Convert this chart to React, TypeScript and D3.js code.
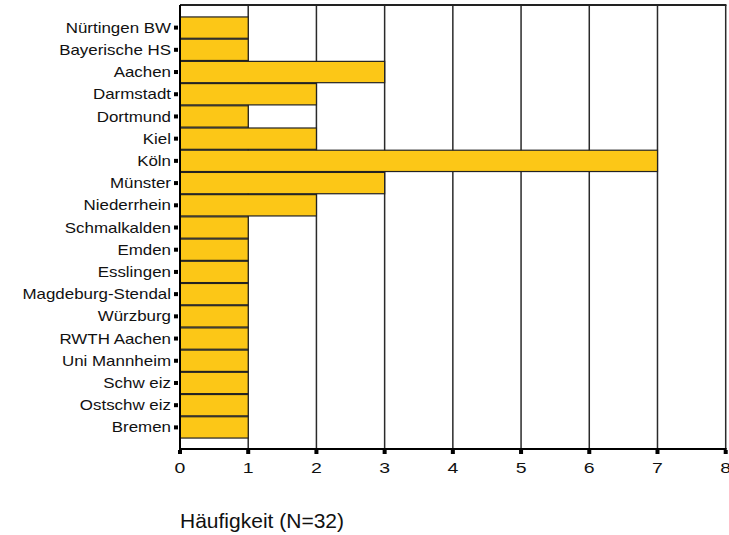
import { useEffect, useRef } from 'react';
import * as d3 from 'd3';

const categories = [
  'Nürtingen BW', 'Bayerische HS', 'Aachen', 'Darmstadt', 'Dortmund', 'Kiel', 'Köln',
  'Münster', 'Niederrhein', 'Schmalkalden', 'Emden', 'Esslingen', 'Magdeburg-Stendal',
  'Würzburg', 'RWTH Aachen', 'Uni Mannheim', 'Schw eiz', 'Ostschw eiz', 'Bremen',
];
const counts = [1, 1, 3, 2, 1, 2, 7, 3, 2, 1, 1, 1, 1, 1, 1, 1, 1, 1, 1];
const xTicks = [0, 1, 2, 3, 4, 5, 6, 7, 8];
const xTitle = 'Häufigkeit (N=32)';

const WIDTH = 729;
const HEIGHT = 535;
const FONT = "'Liberation Sans', Arial, sans-serif";

export default function App() {
  const svgRef = useRef<SVGSVGElement>(null);

  useEffect(() => {
    if (!svgRef.current) return;
    const svg = d3.select(svgRef.current);
    svg.selectAll('*').remove();

    const plot = { left: 180, right: 725.7, top: 5, bottom: 449 };

    const x = d3.scaleLinear().domain([0, 8]).range([plot.left, plot.right]);
    const y = d3.scaleBand<string>()
      .domain(categories)
      .range([16.5, 438.5])
      .paddingInner(0.04)
      .paddingOuter(0.02);

    // vertical grid
    svg.append('g')
      .selectAll('line')
      .data(xTicks.slice(1))
      .join('line')
      .attr('x1', d => x(d))
      .attr('x2', d => x(d))
      .attr('y1', plot.top)
      .attr('y2', plot.bottom)
      .attr('stroke', '#2a2a2a')
      .attr('stroke-width', 1.5);

    // top border
    svg.append('line')
      .attr('x1', plot.left).attr('x2', plot.right + 0.75)
      .attr('y1', plot.top).attr('y2', plot.top)
      .attr('stroke', '#222').attr('stroke-width', 2);

    // bars
    svg.append('g')
      .selectAll('rect')
      .data(categories)
      .join('rect')
      .attr('x', x(0))
      .attr('y', d => y(d)!)
      .attr('width', (_, i) => x(counts[i]) - x(0))
      .attr('height', y.bandwidth())
      .attr('fill', '#fcc717')
      .attr('stroke', '#222')
      .attr('stroke-width', 1.2);

    // axes lines
    svg.append('line')
      .attr('x1', plot.left).attr('x2', plot.left)
      .attr('y1', plot.top).attr('y2', plot.bottom + 1)
      .attr('stroke', '#000').attr('stroke-width', 2);
    svg.append('line')
      .attr('x1', plot.left - 1).attr('x2', plot.right + 1)
      .attr('y1', plot.bottom).attr('y2', plot.bottom)
      .attr('stroke', '#000').attr('stroke-width', 2);

    // y ticks + labels
    const yg = svg.append('g').selectAll('g').data(categories).join('g')
      .attr('transform', d => `translate(0,${y(d)! + y.bandwidth() / 2})`);
    yg.append('rect')
      .attr('x', plot.left - 6).attr('y', -2).attr('width', 4).attr('height', 4)
      .attr('fill', '#000');
    yg.append('text')
      .attr('transform', `translate(${plot.left - 9},0) scale(1.21,1)`)
      .attr('text-anchor', 'end')
      .attr('dy', '0.36em')
      .attr('font-family', FONT)
      .attr('font-size', 14)
      .attr('fill', '#111')
      .text(d => d);

    // x ticks + labels
    const xg = svg.append('g').selectAll('g').data(xTicks).join('g')
      .attr('transform', d => `translate(${x(d)},${plot.bottom})`);
    xg.append('rect')
      .attr('x', -2).attr('y', 1).attr('width', 4).attr('height', 4)
      .attr('fill', '#000');
    xg.append('text')
      .attr('transform', 'translate(0,24) scale(1.3,1)')
      .attr('text-anchor', 'middle')
      .attr('font-family', FONT)
      .attr('font-size', 15)
      .attr('fill', '#111')
      .text(d => d);

    svg.append('text')
      .attr('x', plot.left)
      .attr('y', 528)
      .attr('font-family', FONT)
      .attr('font-size', 21)
      .attr('fill', '#111')
      .text(xTitle);
  }, []);

  return (
    <svg
      ref={svgRef}
      width={WIDTH}
      height={HEIGHT}
      style={{ position: 'absolute', left: 0, top: 0, background: '#fff' }}
    />
  );
}
